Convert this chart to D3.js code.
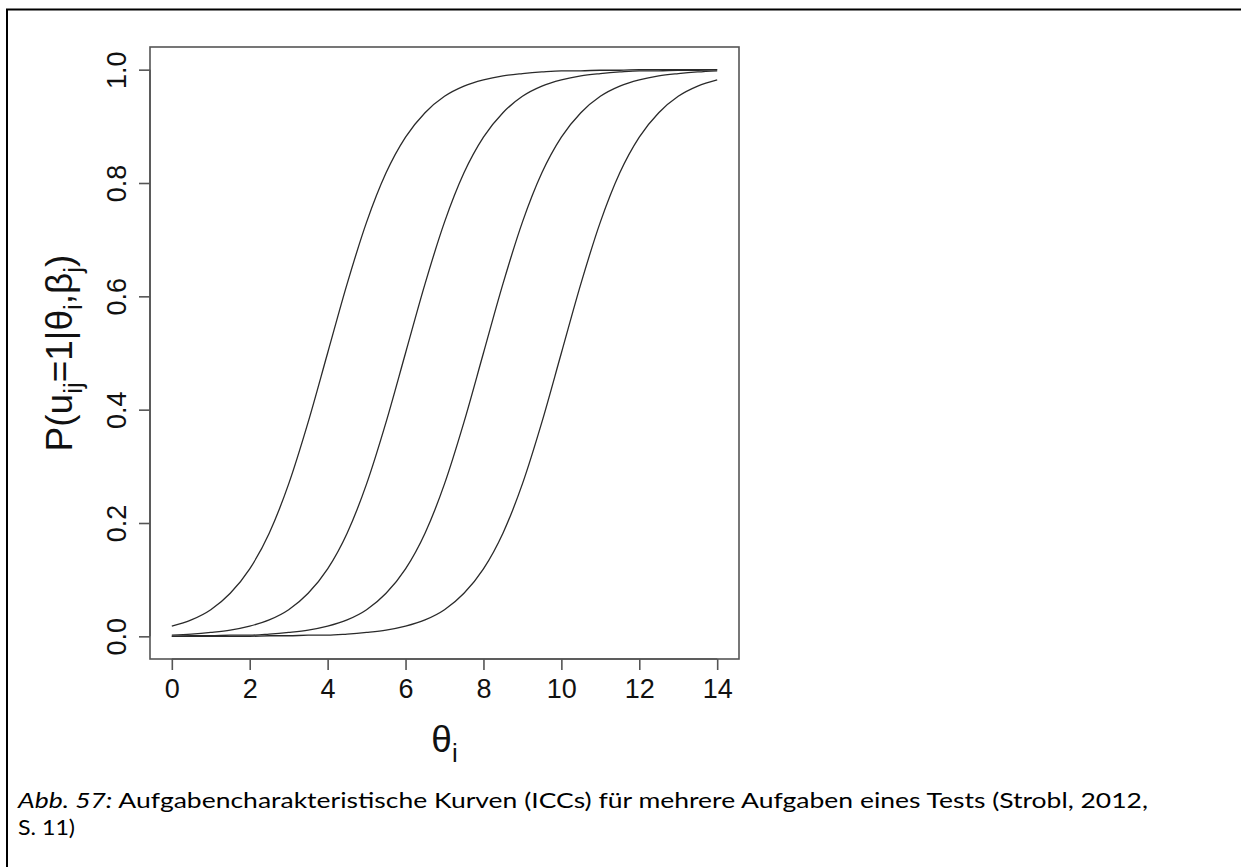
<!DOCTYPE html>
<html>
<head>
<meta charset="utf-8">
<script src="https://cdn.jsdelivr.net/npm/d3@7/dist/d3.min.js"></script>
<style>
  html, body { margin: 0; padding: 0; background: #fff; }
  svg { display: block; }
</style>
</head>
<body>
<svg id="chart" width="1241" height="867"></svg>
<script>
// ---- data ----
const theta = [0,0.5,1,1.5,2,2.5,3,3.5,4,4.5,5,5.5,6,6.5,7,7.5,8,8.5,9,9.5,10,10.5,11,11.5,12,12.5,13,13.5,14];
const item1 = [0.018,0.029,0.047,0.076,0.119,0.182,0.269,0.378,0.500,0.622,0.731,0.818,0.881,0.924,0.953,0.971,0.982,0.989,0.993,0.996,0.998,0.998,0.999,0.999,1.000,1.000,1.000,1.000,1.000];
const item2 = [0.002,0.004,0.007,0.011,0.018,0.029,0.047,0.076,0.119,0.182,0.269,0.378,0.500,0.622,0.731,0.818,0.881,0.924,0.953,0.971,0.982,0.989,0.993,0.996,0.998,0.998,0.999,0.999,1.000];
const item3 = [0.000,0.001,0.001,0.002,0.002,0.004,0.007,0.011,0.018,0.029,0.047,0.076,0.119,0.182,0.269,0.378,0.500,0.622,0.731,0.818,0.881,0.924,0.953,0.971,0.982,0.989,0.993,0.996,0.998];
const item4 = [0.000,0.000,0.000,0.000,0.000,0.001,0.001,0.002,0.002,0.004,0.007,0.011,0.018,0.029,0.047,0.076,0.119,0.182,0.269,0.378,0.500,0.622,0.731,0.818,0.881,0.924,0.953,0.971,0.982];
const series = [item1, item2, item3, item4];
const xTicks = [0,2,4,6,8,10,12,14];
const yTicks = [0.0,0.2,0.4,0.6,0.8,1.0];
const captionLead = "Abb. 57:";
const captionLine1 = " Aufgabencharakteristische Kurven (ICCs) für mehrere Aufgaben eines Tests (Strobl, 2012,";
const captionLine2 = "S. 11)";

// ---- layout ----
const box = { left: 150, top: 47, right: 739, bottom: 659 };
const svg = d3.select("#chart");

// outer frame (table border, continues beyond the picture)
svg.append("rect")
  .attr("x", 7).attr("y", 9.5)
  .attr("width", 1260).attr("height", 900)
  .attr("fill", "none").attr("stroke", "#000").attr("stroke-width", 2);

// R-style 4% axis expansion
const xPad = 0.04 * 14, yPad = 0.04 * 1;
const x = d3.scaleLinear().domain([0 - xPad, 14 + xPad]).range([box.left, box.right]);
const y = d3.scaleLinear().domain([0 - yPad, 1 + yPad]).range([box.bottom, box.top]);

const axisFont = "'Liberation Sans', Arial, sans-serif";
const tickFs = 27;

// curves
const line = d3.line()
  .x((d, i) => x(theta[i]))
  .y(d => y(d))
  .curve(d3.curveMonotoneX);

svg.append("g").selectAll("path")
  .data(series)
  .join("path")
  .attr("d", line)
  .attr("fill", "none")
  .attr("stroke", "#2a2a2a")
  .attr("stroke-width", 1.3);

// box
svg.append("rect")
  .attr("x", box.left).attr("y", box.top)
  .attr("width", box.right - box.left).attr("height", box.bottom - box.top)
  .attr("fill", "none").attr("stroke", "#555").attr("stroke-width", 1.6);

// x axis
const gx = svg.append("g")
  .attr("transform", `translate(0,${box.bottom})`)
  .call(d3.axisBottom(x).tickValues(xTicks).tickSize(11).tickFormat(d3.format("d")));
gx.select(".domain").attr("stroke", "#555").attr("stroke-width", 1.6)
  .attr("d", `M${x(0)},0H${x(14)}`);
gx.selectAll(".tick line").attr("stroke", "#555").attr("stroke-width", 1.6);
gx.selectAll(".tick text")
  .attr("y", 39).attr("dy", 0)
  .attr("font-family", axisFont).attr("font-size", tickFs).attr("fill", "#111");

// y axis
const gy = svg.append("g")
  .attr("transform", `translate(${box.left},0)`)
  .call(d3.axisLeft(y).tickValues(yTicks).tickSize(11).tickFormat(d3.format(".1f")));
gy.select(".domain").attr("stroke", "#555").attr("stroke-width", 1.6)
  .attr("d", `M0,${y(0)}V${y(1)}`);
gy.selectAll(".tick line").attr("stroke", "#555").attr("stroke-width", 1.6);
gy.selectAll(".tick text")
  .attr("x", 0).attr("y", 0).attr("dy", 0)
  .attr("text-anchor", "middle")
  .attr("transform", "translate(-24,0) rotate(-90)")
  .attr("font-family", axisFont).attr("font-size", tickFs).attr("fill", "#111");

// helper for text with subscripts
function addRich(textSel, parts, fs) {
  parts.forEach(p => {
    const t = textSel.append("tspan").text(p.t);
    if (p.sub) {
      t.attr("font-size", fs * 0.7).attr("dy", fs * 0.28);
    } else if (p.after) {
      t.attr("dy", -fs * 0.28);
    }
  });
}

// y title
const yt = svg.append("text")
  .attr("transform", `translate(72,${(box.top + box.bottom) / 2}) rotate(-90)`)
  .attr("text-anchor", "middle")
  .attr("font-family", axisFont).attr("font-size", 37).attr("fill", "#111");
addRich(yt, [
  { t: "P(u" }, { t: "ij", sub: true }, { t: "=1|θ", after: true },
  { t: "i", sub: true }, { t: ",β", after: true }, { t: "j", sub: true }, { t: ")", after: true }
], 37);

// x title
const xt = svg.append("text")
  .attr("transform", `translate(${(box.left + box.right) / 2},752)`)
  .attr("text-anchor", "middle")
  .attr("font-family", axisFont).attr("font-size", 37).attr("fill", "#111");
addRich(xt, [{ t: "θ" }, { t: "i", sub: true }], 37);

// caption
const capFont = "Lato, 'Open Sans', sans-serif";
const capFs = 22;
const c1 = svg.append("text")
  .attr("x", 18).attr("y", 808)
  .attr("font-family", capFont).attr("font-size", capFs).attr("fill", "#000");
c1.append("tspan").attr("font-style", "italic").text(captionLead);
c1.append("tspan").text(captionLine1);
svg.append("text")
  .attr("x", 18).attr("y", 835)
  .attr("font-family", capFont).attr("font-size", capFs).attr("fill", "#000")
  .attr("textLength", 57).attr("lengthAdjust", "spacingAndGlyphs")
  .text(captionLine2);

// fit caption line 1 width to the reference (~1130 px)
c1.attr("textLength", 1130).attr("lengthAdjust", "spacingAndGlyphs");
</script>
</body>
</html>
